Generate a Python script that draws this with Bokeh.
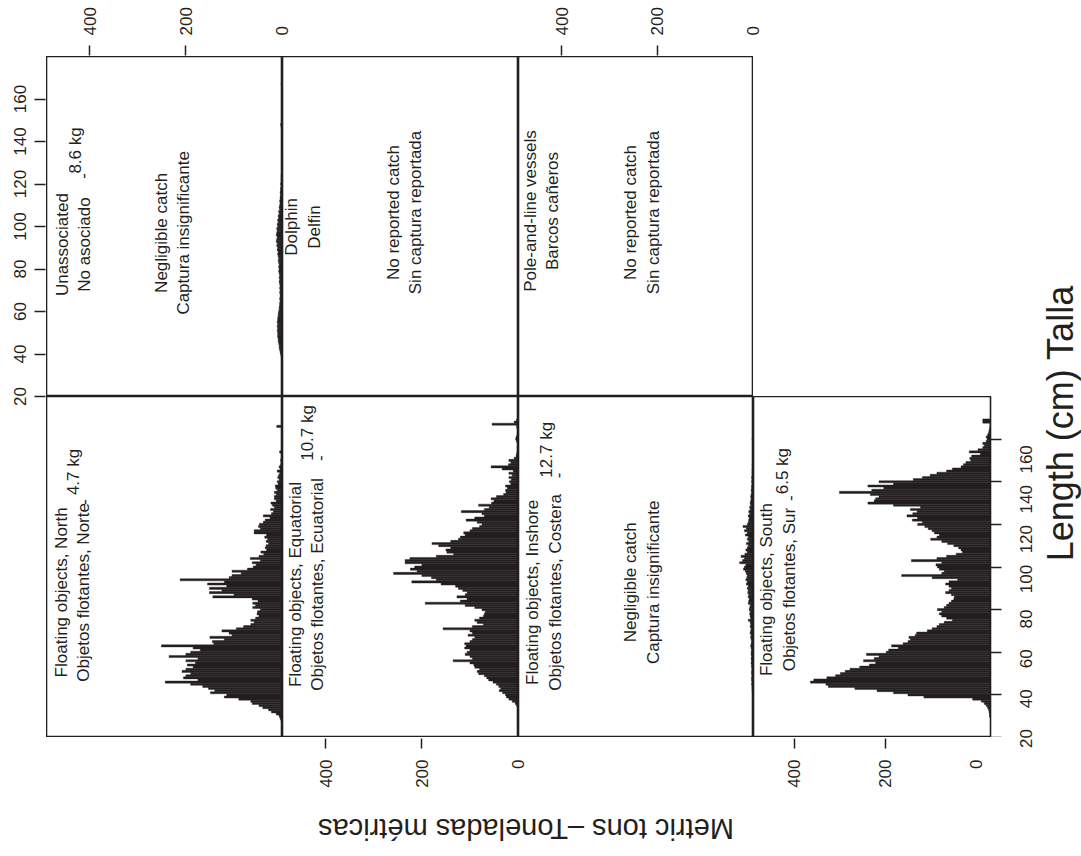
from math import pi
from bokeh.plotting import figure
from bokeh.models import Range1d, FixedTicker, GridBox, Label, LinearAxis
from bokeh.embed import file_html
from bokeh.resources import INLINE
from bokeh.core.properties import value

FONT = "Liberation Sans"
INK = "#231f20"

# ---------------- data (metric tons by 1-cm length class) ----------------
north_start = 27
north_tons = [1, 2, 4, 6, 12, 22, 28, 40, 48, 62,
              65, 90, 120, 115, 149, 140, 153, 165, 190, 243,
              175, 205, 200, 190, 208, 200, 185, 197, 180, 200,
              175, 235, 200, 190, 170, 185, 251, 142, 145, 120,
              150, 104, 110, 125, 95, 80, 65, 58, 65, 55,
              48, 52, 51, 45, 61, 55, 61, 50, 62, 144,
              100, 151, 125, 151, 115, 155, 120, 212, 110, 104,
              85, 104, 72, 60, 54, 62, 45, 66, 48, 38,
              44, 32, 35, 33, 28, 33, 30, 36, 32, 58,
              58, 45, 49, 47, 39, 35, 25, 39, 22, 18,
              24, 16, 20, 23, 12, 16, 16, 12, 16, 10,
              13, 14, 8, 10, 6, 9, 7, 5, 10, 4,
              6, 3, 2, 3, 2, 1, 2, 5, 1, 1,
              0, 0, 0, 0, 0, 0, 0, 0, 0, 11]

equatorial_start = 33
equatorial_tons = [1, 1, 3, 6, 12, 19, 24, 26, 32, 39,
                   36, 40, 45, 52, 61, 65, 70, 82, 85, 80,
                   90, 92, 100, 135, 95, 100, 110, 106, 100, 111,
                   108, 111, 100, 95, 90, 104, 95, 100, 156, 95,
                   72, 85, 90, 80, 72, 70, 68, 75, 90, 110,
                   193, 120, 106, 127, 110, 106, 115, 124, 130, 160,
                   221, 170, 180, 200, 259, 210, 224, 215, 200, 235,
                   235, 225, 170, 134, 148, 150, 140, 165, 179, 140,
                   124, 120, 110, 113, 100, 95, 80, 75, 85, 108,
                   90, 70, 75, 118, 70, 60, 82, 55, 50, 56,
                   45, 30, 25, 26, 22, 26, 15, 18, 14, 19,
                   12, 19, 10, 33, 56, 20, 15, 19, 8, 4,
                   3, 2, 1, 2, 1, 1, 3, 5, 4, 2,
                   1, 0, 2, 3, 54, 8, 3]

south_start = 30
south_tons = [1, 1, 2, 3, 5, 8, 12, 18, 36, 137,
              170, 200, 234, 280, 335, 340, 372, 365, 338, 320,
              310, 300, 290, 270, 250, 237, 262, 240, 230, 256,
              215, 210, 190, 204, 180, 170, 165, 168, 155, 152,
              130, 120, 110, 105, 95, 78, 90, 100, 105, 100,
              109, 95, 90, 85, 80, 75, 74, 80, 92, 85,
              80, 85, 92, 85, 67, 120, 183, 100, 95, 105,
              109, 112, 100, 163, 110, 90, 70, 57, 60, 65,
              75, 88, 100, 123, 110, 105, 115, 120, 128, 135,
              150, 140, 161, 150, 172, 160, 151, 165, 144, 200,
              253, 240, 237, 230, 248, 312, 245, 220, 253, 200,
              230, 159, 140, 124, 110, 90, 78, 60, 55, 50,
              40, 42, 38, 20, 43, 25, 15, 12, 15, 8,
              6, 8, 5, 3, 2, 1, 0, 0, 15, 15]

inshore_start = 40
inshore_tons = [1, 1, 2, 2, 2, 3, 2, 3, 3, 2,
                3, 3, 2, 3, 3, 4, 3, 4, 3, 4,
                4, 3, 4, 5, 4, 3, 4, 5, 4, 6,
                5, 4, 6, 5, 6, 10, 5, 6, 7, 6,
                8, 7, 6, 10, 9, 8, 10, 9, 11, 10,
                12, 10, 14, 12, 15, 13, 12, 14, 16, 20,
                18, 15, 28, 22, 18, 25, 17, 12, 15, 12,
                10, 14, 9, 12, 10, 16, 12, 18, 14, 21,
                12, 10, 9, 8, 10, 7, 9, 6, 7, 5,
                6, 5, 4, 5, 4, 3, 4, 3, 3, 2,
                3, 2, 3, 2, 2, 2, 2, 1, 2, 1,
                1, 1, 1, 1, 1, 1, 1, 1, 1, 1,
                2, 1]

unassoc_start = 38
unassoc_tons = [1, 2, 3, 4, 5, 6, 6, 7, 8, 8,
                9, 9, 9, 10, 9, 10, 9, 10, 9, 9,
                8, 8, 7, 6, 6, 5, 5, 4, 5, 4,
                4, 5, 4, 5, 4, 5, 6, 5, 6, 5,
                6, 7, 6, 7, 6, 7, 8, 7, 8, 9,
                8, 10, 9, 11, 10, 12, 11, 10, 12, 11,
                10, 11, 9, 10, 8, 9, 7, 8, 6, 7,
                5, 6, 5, 4, 5, 4, 4, 3, 4, 3,
                3, 2, 3, 2, 2, 2, 2, 1, 1, 1,
                1, 1, 1, 1, 1, 1, 1, 1, 1, 1,
                1, 1, 1, 1, 1, 1, 1, 1, 1, 2,
                3, 1, 1, 1, 0, 0, 0, 0, 0, 0,
                0, 0, 0, 0, 0, 0, 0, 0, 0, 2]

value_ticks = [0, 200, 400]
value_tick_marks = [200, 400]
length_ticks = [20, 40, 60, 80, 100, 120, 140, 160]
length_tick_labels = ["20", "40", "60", "80", "100", "120", "140", "160"]

# panel texts: (tons position, length position, text)
unassoc_texts = [(434, 91.5, "Unassociated\nNo asociado"), (228, 97, "Negligible catch\nCaptura insignificante")]
unassoc_weight = [(415, 123.8, "-"), (430, 135.8, "8.6 kg")]
dolphin_texts = [(447, 99.8, "Dolphin\nDelfin"), (236, 106.6, "No reported catch\nSin captura reportada")]
pole_texts = [(442, 107.3, "Pole-and-line vessels\nBarcos cañeros"), (232, 106.6, "No reported catch\nSin captura reportada")]
north_texts = [(436, 88.1, "Floating objects, North\nObjetos flotantes, Norte")]
north_weight = [(413, 130.5, "-"), (433, 144.6, "4.7 kg")]
equatorial_texts = [(440, 91.8, "Floating objects, Equatorial\nObjetos flotantes, Ecuatorial")]
equatorial_weight = [(411, 151.1, "-"), (438, 162.9, "10.7 kg")]
inshore_texts = [(436, 88.1, "Floating objects, Inshore\nObjetos flotantes, Costera"), (232, 92.8, "Negligible catch\nCaptura insignificante")]
inshore_weight = [(407, 143.0, "-"), (432, 155.0, "12.7 kg")]
south_texts = [(440, 89.4, "Floating objects, South\nObjetos flotantes, Sur")]
south_weight = [(415, 132.3, "-"), (430, 145.0, "6.5 kg")]

x_title = "Length (cm) Talla"
y_title = "Metric tons \u2013Toneladas métricas"

# ---------------- layout ----------------
TMAX, TMIN = 490, -1          # tons shown across one panel (reversed: 0 at right)
LMIN, LMAX = 20, 180          # length shown along one panel
# grid columns: left-axis strip, 4 panel columns, right tick border, right labels + title
COLW = [46, 236, 236, 235, 237, 15, 76]
# grid rows: top-axis strip, upper panels, lower panels, bottom-axis strip, title strip
ROWH = [56, 340, 341, 53, 66]
COLX = [sum(COLW[:i]) for i in range(len(COLW) + 1)]
ROWY = [sum(ROWH[:i]) for i in range(len(ROWH) + 1)]


def tons_range(col, first_col, last_col):
    """Range whose frame spans columns first_col..last_col, with the panel in col."""
    ppt = COLW[col] / (TMAX - TMIN)
    start = TMAX + (COLX[col] - COLX[first_col]) / ppt
    end = TMIN - (COLX[last_col + 1] - COLX[col + 1]) / ppt
    return Range1d(start, end)


def base_fig(width, height, x_range, y_range, **borders):
    p = figure(width=width, height=height, x_range=x_range, y_range=y_range,
               x_axis_location=None, y_axis_location=None,
               output_backend="svg", toolbar_location=None, min_border=0, **borders)
    p.grid.grid_line_color = None
    p.outline_line_color = None
    p.background_fill_color = "white"
    p.border_fill_color = "white"
    return p


def panel(col, height, width=None, **borders):
    p = base_fig(width or COLW[col], height, Range1d(TMAX, TMIN), Range1d(LMIN, LMAX), **borders)
    p.outline_line_color = INK
    p.outline_line_width = 1.6
    return p


def bars(p, start, tons):
    lengths = [start + i for i in range(len(tons))]
    p.hbar(y=lengths, height=1, left=0, right=tons, fill_color=INK,
           line_color=INK, line_width=0.4)


def texts(p, items, size="17px"):
    p.text(x=[t[0] for t in items], y=[t[1] for t in items], text=[t[2] for t in items],
           angle=pi / 2, text_align="center", text_baseline="middle",
           text_font=value(FONT), text_font_size=size, text_color=INK, text_line_height=1.2)


def style_labels(ax):
    ax.major_label_text_font = FONT
    ax.major_label_text_font_size = "17px"
    ax.major_label_text_color = INK


def value_axis(p, side, standoff):
    # tick marks at 200/400 (drawn as minor ticks), labels at 0/200/400
    ax = LinearAxis(ticker=FixedTicker(ticks=value_ticks, minor_ticks=value_tick_marks))
    ax.axis_line_color = None
    ax.major_tick_line_color = None
    ax.major_tick_out = 10
    ax.major_tick_in = 0
    ax.minor_tick_line_color = INK
    ax.minor_tick_line_width = 1.5
    ax.minor_tick_out = 10
    ax.minor_tick_in = 0
    ax.major_label_orientation = pi / 2
    ax.major_label_standoff = standoff
    style_labels(ax)
    p.add_layout(ax, side)


def length_axis_labels(p, side, standoff, tick_out):
    ax = LinearAxis(ticker=FixedTicker(ticks=length_ticks))
    ax.axis_line_color = None
    ax.major_tick_line_color = INK
    ax.major_tick_line_width = 1.5
    ax.major_tick_out = tick_out
    ax.major_tick_in = 0
    ax.minor_tick_line_color = None
    ax.major_label_orientation = "parallel"
    ax.major_label_standoff = standoff
    style_labels(ax)
    p.add_layout(ax, side)


def length_tick_marks(p, side):
    # tick marks only (no labels): ticks given as minor ticks
    ax = LinearAxis(ticker=FixedTicker(ticks=[], minor_ticks=length_ticks))
    ax.axis_line_color = None
    ax.major_tick_line_color = None
    ax.major_tick_out = 0
    ax.major_tick_in = 0
    ax.major_label_standoff = 0
    ax.minor_tick_line_color = INK
    ax.minor_tick_line_width = 1.5
    ax.minor_tick_out = 11
    ax.minor_tick_in = 0
    p.add_layout(ax, side)


# ---- upper panels (original right-hand column) ----
p_unassoc = panel(1, ROWH[1])
bars(p_unassoc, unassoc_start, unassoc_tons)
texts(p_unassoc, unassoc_texts)
texts(p_unassoc, unassoc_weight)

p_dolphin = panel(2, ROWH[1])
texts(p_dolphin, dolphin_texts)

p_pole = panel(3, ROWH[1])
texts(p_pole, pole_texts)

# ---- lower panels (original left-hand column) ----
p_north = panel(1, ROWH[2])
bars(p_north, north_start, north_tons)
texts(p_north, north_texts)
texts(p_north, north_weight)

p_equ = panel(2, ROWH[2])
bars(p_equ, equatorial_start, equatorial_tons)
texts(p_equ, equatorial_texts)
texts(p_equ, equatorial_weight)

p_inshore = panel(3, ROWH[2])
bars(p_inshore, inshore_start, inshore_tons)
texts(p_inshore, inshore_texts)
texts(p_inshore, inshore_weight)

p_south = panel(4, ROWH[2], width=COLW[4] + COLW[5], min_border_right=COLW[5])
bars(p_south, south_start, south_tons)
texts(p_south, south_texts)
texts(p_south, south_weight)
length_tick_marks(p_south, "right")

# ---- axis strips ----
strip_top1 = base_fig(COLW[1] + COLW[2], ROWH[0], tons_range(1, 1, 2), Range1d(0, 1),
                      min_border_top=ROWH[0] - 1)
value_axis(strip_top1, "above", 10)

strip_top3 = base_fig(COLW[3] + COLW[4], ROWH[0], tons_range(3, 3, 4), Range1d(0, 1),
                      min_border_top=ROWH[0] - 1)
value_axis(strip_top3, "above", 10)

strip_bot2 = base_fig(COLW[2] + COLW[3], ROWH[3], tons_range(2, 2, 3), Range1d(0, 1),
                      min_border_bottom=ROWH[3] - 1)
value_axis(strip_bot2, "below", 11)

strip_bot4 = base_fig(COLW[4] + COLW[5], ROWH[3], tons_range(4, 4, 5), Range1d(0, 1),
                      min_border_bottom=ROWH[3] - 1)
value_axis(strip_bot4, "below", 11)

len_per_px_up = (LMAX - LMIN) / ROWH[1]
strip_left = base_fig(COLW[0], ROWH[1] + ROWH[2], Range1d(0, 1),
                      Range1d(LMIN - ROWH[2] * len_per_px_up, LMAX),
                      min_border_left=COLW[0] - 1)
length_axis_labels(strip_left, "left", standoff=9, tick_out=11)

# ---- right side: length labels of the lower panels + length title ----
H = sum(ROWH)
len_per_px_lo = (LMAX - LMIN) / ROWH[2]
lo_bottom_px = ROWY[3]                      # page y of length LMIN in lower panels
LABEL_NUDGE_PX = 7                          # rotated single-line text sits low; lift it
TITLE_NUDGE_PX = 26


def page_y_to_len(y):
    return LMIN + (lo_bottom_px - y) * len_per_px_lo


p_right = base_fig(COLW[6], H, Range1d(0, COLW[6]),
                   Range1d(page_y_to_len(H), page_y_to_len(0)))
p_right.text(x=[20] * len(length_ticks),
             y=[t + LABEL_NUDGE_PX * len_per_px_lo for t in length_ticks],
             text=length_tick_labels,
             angle=pi / 2, text_align="center", text_baseline="middle",
             text_font=value(FONT), text_font_size="17px", text_color=INK)
p_right.text(x=[55], y=[page_y_to_len(419 - TITLE_NUDGE_PX)], text=[x_title],
             angle=pi / 2, text_align="center", text_baseline="middle",
             text_font=value(FONT), text_font_size="36px", text_color=INK)

# ---- bottom title ----
p_ytitle = base_fig(COLX[6], ROWH[4], Range1d(0, COLX[6]), Range1d(0, ROWH[4]))
p_ytitle.add_layout(Label(x=511, y=H - 828, text=y_title, angle=pi, text_align="center",
                          text_baseline="middle", text_font=FONT, text_font_size="29px",
                          text_color=INK))

grid = GridBox(children=[
    (strip_top1, 0, 1, 1, 2), (strip_top3, 0, 3, 1, 2),
    (strip_left, 1, 0, 2, 1),
    (p_unassoc, 1, 1), (p_dolphin, 1, 2), (p_pole, 1, 3),
    (p_north, 2, 1), (p_equ, 2, 2), (p_inshore, 2, 3),
    (p_south, 2, 4, 1, 2),
    (strip_bot2, 3, 2, 1, 2), (strip_bot4, 3, 4, 1, 2),
    (p_ytitle, 4, 0, 1, 6),
    (p_right, 0, 6, 5, 1),
], spacing=0,
    cols=[f"{w}px" for w in COLW], rows=[f"{h}px" for h in ROWH])

open("out.html", "w").write(file_html(grid, INLINE))
